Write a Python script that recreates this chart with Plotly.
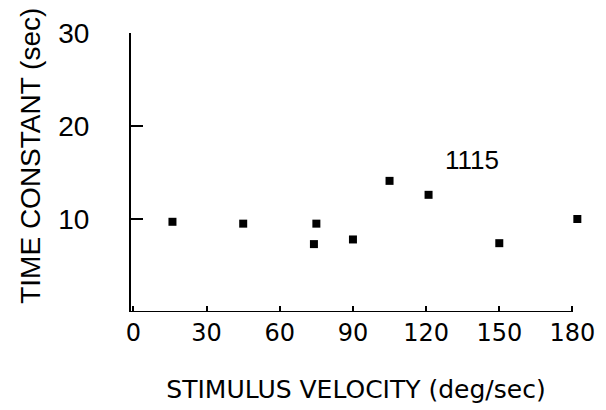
import plotly.graph_objects as go

velocity = [16, 45, 75, 74, 90, 105, 121, 150, 182]
time_constant = [9.7, 9.5, 9.5, 7.3, 7.8, 14.1, 12.6, 7.4, 10.0]
x_ticks = [0, 30, 60, 90, 120, 150, 180]
y_ticks = [10, 20, 30]
label_text = "1115"
x_title = "STIMULUS VELOCITY (deg/sec)"
y_title = "TIME CONSTANT (sec)"

x_range = [-1, 183.5]

fig = go.Figure()
fig.add_trace(go.Scatter(
    x=velocity, y=time_constant, mode="markers",
    marker=dict(symbol="square", size=8, color="black"),
    cliponaxis=False, showlegend=False,
))
fig.add_annotation(x=139, y=16.3, text=label_text, showarrow=False,
                   font=dict(family="Liberation Sans", size=26, color="black"))
# y-axis title, placed as in the original drawing (slightly above centre)
fig.add_annotation(xref="paper", yref="paper", x=0, y=0.56, xanchor="center", xshift=-100,
                   text=y_title, textangle=-90, showarrow=False,
                   font=dict(family="Liberation Sans", size=28, color="black"))
# x-axis baseline ends at the last tick (180), like the original drawing
fig.add_shape(type="line", xref="x", yref="y", x0=x_range[0], x1=x_ticks[-1], y0=0, y1=0,
              line=dict(color="black", width=2))

fig.update_layout(
    width=606, height=410,
    margin=dict(l=131, r=25, t=33, b=98),
    plot_bgcolor="white", paper_bgcolor="white",
    font=dict(family="DejaVu Sans", color="black"),
)
fig.update_xaxes(
    range=x_range, tickvals=x_ticks, ticks="inside", ticklen=6, tickwidth=2, tickcolor="black",
    showline=False, showgrid=False, zeroline=False,
    tickfont=dict(size=24), ticklabelstandoff=4,
    title=dict(text=x_title, font=dict(size=25), standoff=34),
)
fig.update_yaxes(
    range=[0, 30], tickvals=y_ticks, ticks="inside", ticklen=12, tickwidth=2, tickcolor="black",
    showline=True, linewidth=2, linecolor="black", showgrid=False, zeroline=False,
    tickfont=dict(family="Liberation Sans", size=28), ticklabelstandoff=34,
)
fig.write_html("out.html")
